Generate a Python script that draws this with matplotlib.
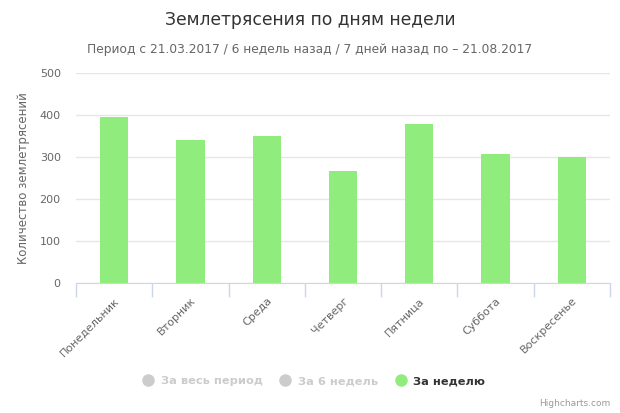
import matplotlib
matplotlib.use("Agg")
import matplotlib.pyplot as plt
from matplotlib.lines import Line2D

categories = ["Понедельник", "Вторник", "Среда", "Четверг", "Пятница", "Суббота", "Воскресенье"]
week_values = [396, 340, 350, 266, 378, 307, 300]
y_ticks = [0, 100, 200, 300, 400, 500]
legend_labels = ["За весь период", "За 6 недель", "За неделю"]

title = "Землетрясения по дням недели"
subtitle = "Период с 21.03.2017 / 6 недель назад / 7 дней назад по – 21.08.2017"
y_label = "Количество землетрясений"

plt.rcParams['font.family'] = ['DejaVu Sans']

fig = plt.figure(figsize=(6.2, 4.13), dpi=100)
ax = fig.add_axes([76/620, 1-283/413, (610-76)/620, (283-73)/413])

x = list(range(len(categories)))
ax.bar(x, week_values, width=0.37, color="#90ed7d", zorder=3)

ax.set_xlim(-0.5, len(categories) - 0.5)
ax.set_ylim(0, 500)
ax.set_yticks(y_ticks)
ax.set_yticklabels([str(v) for v in y_ticks], fontsize=8, color="#666666")
ax.grid(axis='y', color="#e6e6e6", linewidth=1, zorder=0)
ax.tick_params(axis='y', length=0, pad=11)

ax.set_xticks(x)
ax.set_xticklabels(categories, rotation=45, ha='right', rotation_mode='anchor',
                   fontsize=8, color="#666666")
ax.tick_params(axis='x', length=0, pad=9)
ax.set_xticks([i - 0.5 for i in range(len(categories) + 1)], minor=True)
ax.tick_params(axis='x', which='minor', length=10, color="#ccd6eb", width=1)

for s in ['top', 'right', 'left']:
    ax.spines[s].set_visible(False)
ax.spines['bottom'].set_color("#ccd6eb")

ax.set_ylabel(y_label, fontsize=8.5, color="#666666")
ax.yaxis.set_label_coords(-46/534, 0.5)

fig.text(0.5, 1-20/413, title, ha='center', va='center', fontsize=12.3, color="#333333")
fig.text(0.5, 1-49/413, subtitle, ha='center', va='center', fontsize=8.8, color="#666666")

handles = [
    Line2D([], [], marker='o', linestyle='none', markersize=8, markerfacecolor="#cccccc", markeredgecolor="#cccccc"),
    Line2D([], [], marker='o', linestyle='none', markersize=8, markerfacecolor="#cccccc", markeredgecolor="#cccccc"),
    Line2D([], [], marker='o', linestyle='none', markersize=8, markerfacecolor="#90ed7d", markeredgecolor="#90ed7d"),
]
leg = fig.legend(handles, legend_labels, loc='center', bbox_to_anchor=(0.506, 1-381/413),
                 ncol=3, frameon=False, prop={'size': 8.2, 'weight': 'bold'},
                 handletextpad=0.6, columnspacing=1.5, handlelength=1.0)
colors = ["#cccccc", "#cccccc", "#333333"]
for t, c in zip(leg.get_texts(), colors):
    t.set_color(c)

fig.text(610/620, 1-404/413, "Highcharts.com", ha='right', va='center', fontsize=6.5, color="#999999")

fig.savefig("out.png", dpi=100)
